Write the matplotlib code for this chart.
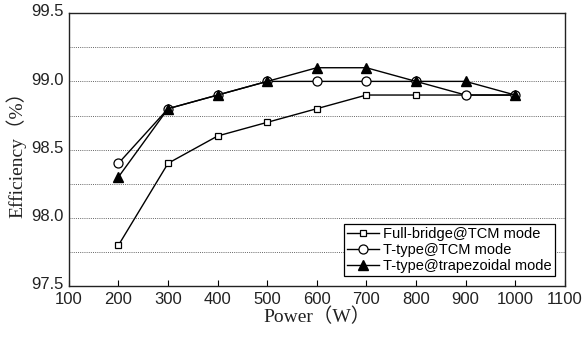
import matplotlib
matplotlib.use('Agg')
import matplotlib.pyplot as plt
import matplotlib.transforms as mtransforms
from matplotlib.ticker import MultipleLocator

power = [200, 300, 400, 500, 600, 700, 800, 900, 1000]
full_bridge_tcm = [97.8, 98.4, 98.6, 98.7, 98.8, 98.9, 98.9, 98.9, 98.9]
ttype_tcm = [98.4, 98.8, 98.9, 99.0, 99.0, 99.0, 99.0, 98.9, 98.9]
ttype_trap = [98.3, 98.8, 98.9, 99.0, 99.1, 99.1, 99.0, 99.0, 98.9]

plt.rcParams['font.family'] = ['Liberation Sans', 'DejaVu Sans']

fig = plt.figure(figsize=(5.84, 3.37), dpi=100)
ax = fig.add_axes([0.118, 0.151, 0.849, 0.810])

ax.plot(power, full_bridge_tcm, color='black', lw=1, marker='s', ms=4.5,
        mfc='white', mec='black', mew=0.9, label='Full-bridge@TCM mode')
ax.plot(power, ttype_tcm, color='black', lw=1, marker='o', ms=6.5,
        mfc='white', mec='black', mew=0.9, label='T-type@TCM mode')
ax.plot(power, ttype_trap, color='black', lw=1, marker='^', ms=6.5,
        mfc='black', mec='black', label='T-type@trapezoidal mode')

ax.set_xlim(100, 1100)
ax.set_ylim(97.5, 99.5)
ax.xaxis.set_major_locator(MultipleLocator(100))
ax.yaxis.set_major_locator(MultipleLocator(0.5))
ax.yaxis.set_minor_locator(MultipleLocator(0.25))
ax.yaxis.set_major_formatter(plt.FormatStrFormatter('%.1f'))
ax.tick_params(axis='x', direction='in', length=4, labelsize=12, pad=4,
               labelcolor='#222222')
ax.tick_params(axis='y', which='both', length=0, labelsize=12, labelcolor='#222222')
ax.grid(axis='y', which='both', linestyle=(0, (1, 1.2)), color='#666666', lw=0.7)
for s in ax.spines.values():
    s.set_linewidth(1)
    s.set_color('#222222')

# lift y tick labels a little so 97.5 doesn't sit on the x labels
shift = mtransforms.ScaledTranslation(0, 2 / 72, fig.dpi_scale_trans)
for lbl in ax.get_yticklabels():
    lbl.set_transform(lbl.get_transform() + shift)

lab_font = ['Liberation Serif', 'Noto Sans CJK SC']
ax.set_xlabel('Power（W）', fontsize=14, family=lab_font, labelpad=1, color='#222222')
ax.set_ylabel('Efficiency（%）', fontsize=14, family=lab_font, labelpad=4, color='#222222')

leg = ax.legend(loc='lower right', fontsize=10.5, fancybox=False, edgecolor='black',
                framealpha=1, borderpad=0.2, labelspacing=0.15, handlelength=2.2,
                handletextpad=0.3, borderaxespad=0.7)
leg.get_frame().set_linewidth(0.9)

fig.savefig('out.png', dpi=100)
